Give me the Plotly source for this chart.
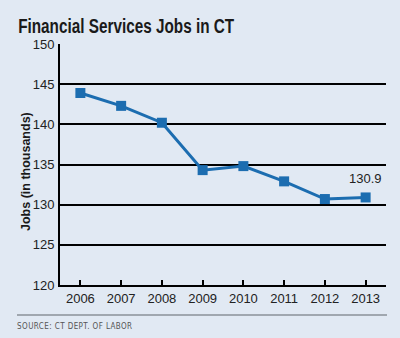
import plotly.graph_objects as go

years = ["2006", "2007", "2008", "2009", "2010", "2011", "2012", "2013"]
jobs = [143.9, 142.3, 140.2, 134.3, 134.8, 132.9, 130.7, 130.9]
y_ticks = [120, 125, 130, 135, 140, 145, 150]

title_text = "Financial Services Jobs in CT"
y_title = "Jobs (in thousands)"
source_text = "SOURCE: CT DEPT. OF LABOR"
last_label = "130.9"

blue = "#1c6db0"

W, H = 400, 338
l, r, t, b = 60, 14, 44, 53
pw, ph = W - l - r, H - t - b


def px(xp):
    return (xp - l) / pw


def py(yp):
    return (H - b - yp) / ph


fig = go.Figure()
fig.add_trace(go.Scatter(
    x=years, y=jobs, mode="lines+markers",
    line=dict(color=blue, width=3),
    marker=dict(symbol="square", size=10, color=blue),
    showlegend=False, hoverinfo="skip",
))

fig.add_annotation(x=len(years) - 1, y=jobs[-1], text=last_label, showarrow=False, yshift=19,
                   xref="x", yref="y", font=dict(size=13, color="#222"))
fig.add_annotation(x=px(125.5), y=py(26), xref="paper", yref="paper",
                   text=f"<b>{title_text}</b>", showarrow=False,
                   xanchor="center", yanchor="middle",
                   font=dict(family="Liberation Sans, Arial", size=20, color="#1a1a1a"))
fig.add_annotation(x=px(26), y=py(172), xref="paper", yref="paper",
                   text=f"<b>{y_title}</b>", showarrow=False, textangle=-90,
                   xanchor="center", yanchor="middle",
                   font=dict(size=12.5, color="#1a1a1a"))
fig.add_annotation(x=px(74.5), y=py(326), xref="paper", yref="paper",
                   text=source_text, showarrow=False, xanchor="center", yanchor="middle",
                   font=dict(family="DejaVu Sans Condensed, DejaVu Sans", size=8, color="#555"))
fig.add_shape(type="line", xref="paper", yref="paper",
              x0=px(17), x1=px(387), y0=py(315), y1=py(315),
              line=dict(color="#8a9099", width=1.5))

fig.update_layout(
    width=W, height=H,
    margin=dict(l=l, r=r, t=t, b=b),
    paper_bgcolor="#e1e9f3",
    plot_bgcolor="rgba(0,0,0,0)",
    font=dict(family="Liberation Sans, Arial", size=13, color="#222"),
)

fig.update_xaxes(
    type="category", range=[-0.5, 7.5],
    showline=True, linecolor="black", linewidth=2,
    ticks="inside", ticklen=5, tickwidth=2, tickcolor="black",
    showgrid=False, tickfont=dict(size=13, color="#222"),
)
fig.update_yaxes(
    range=[120, 150], tickvals=y_ticks,
    showline=True, linecolor="black", linewidth=2,
    showgrid=True, gridcolor="black", gridwidth=2,
    zeroline=False, ticks="", ticklabelstandoff=1,
    tickfont=dict(size=13, color="#222"),
)

post = """
(function(){
  var fit = function(){
    document.querySelectorAll('.annotation-text').forEach(function(el){
      var s = el.textContent;
      if (s === %r) { el.setAttribute('textLength','216'); el.setAttribute('lengthAdjust','spacingAndGlyphs'); }
      if (s === %r) { el.setAttribute('textLength','115'); el.setAttribute('lengthAdjust','spacing'); }
    });
  };
  fit();
  setTimeout(fit, 50);
})();
""" % (title_text, source_text)

fig.write_html("out.html", post_script=post)
